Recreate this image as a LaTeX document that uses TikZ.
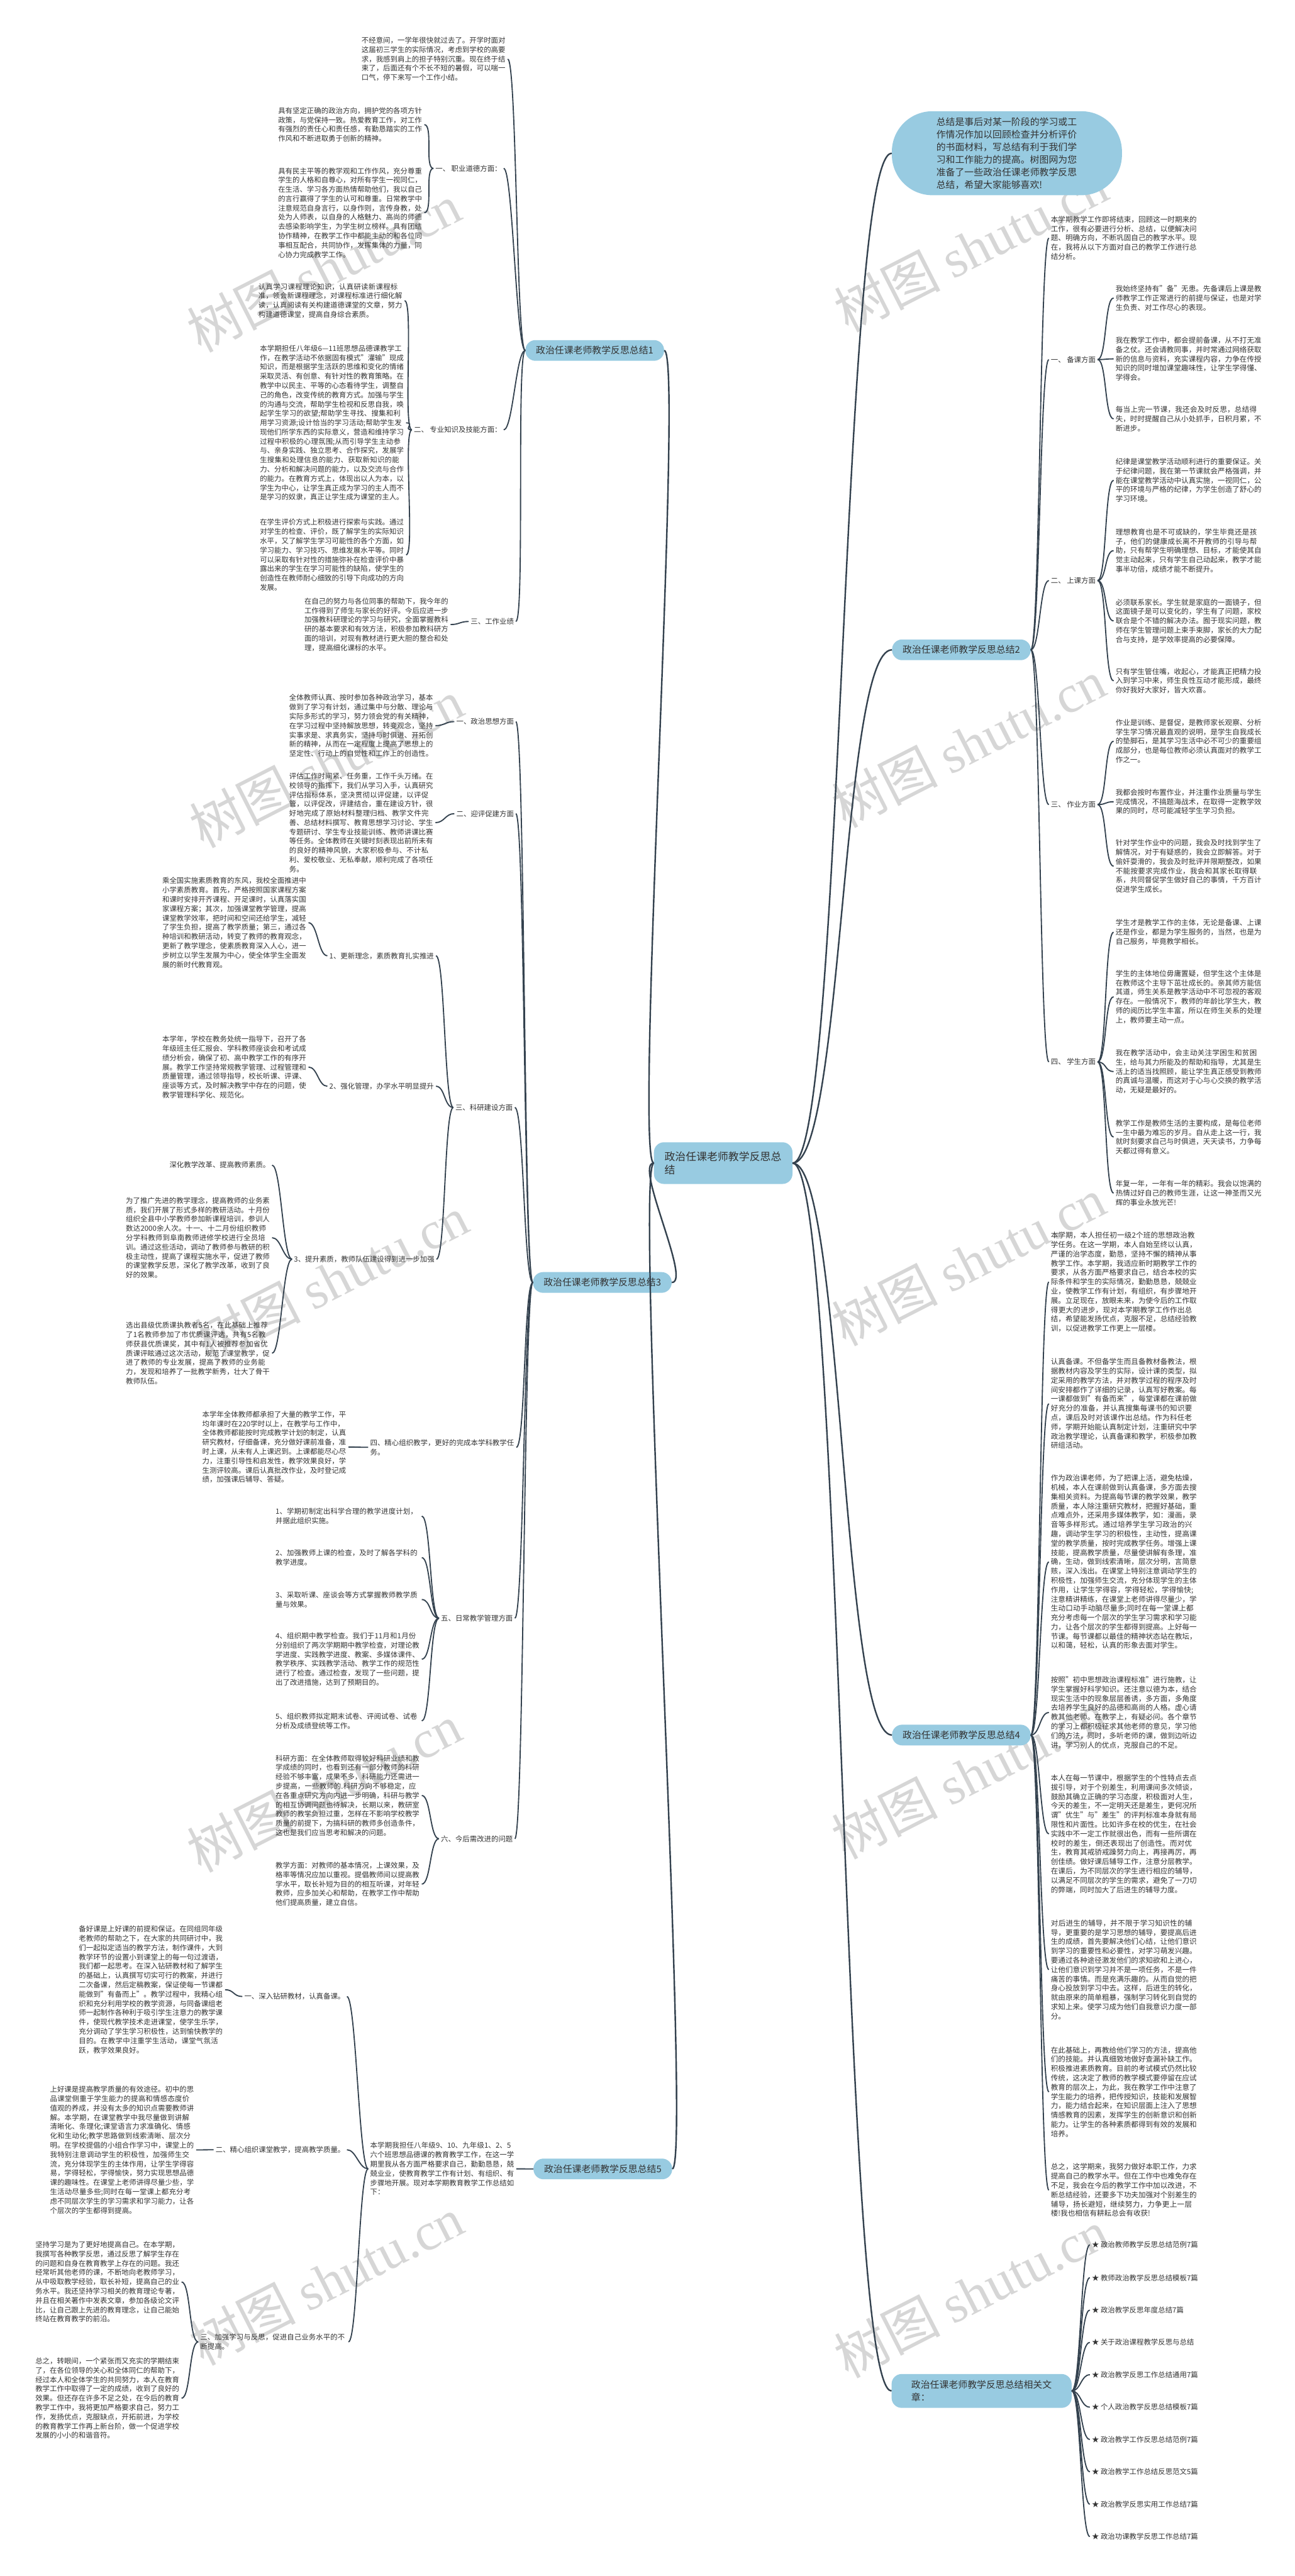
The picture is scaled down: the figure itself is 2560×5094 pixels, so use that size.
\documentclass[tikz,border=0pt]{standalone}
\usepackage{fontspec}
\setmainfont{Noto Sans CJK SC}
\newfontfamily\wmlatin{Liberation Serif}
\XeTeXlinebreaklocale "zh"
\XeTeXlinebreakskip=0pt plus 1pt
\definecolor{mmblue}{HTML}{98CBE1}
\definecolor{mmline}{HTML}{34424F}
\definecolor{mmtext}{HTML}{333333}
\usetikzlibrary{positioning}

\tikzset{
  para/.style={font=\fontsize{14.2}{18.4}\selectfont, text width=285pt, align=left, inner sep=0pt, outer xsep=4pt, text=mmtext},
  rpara/.style={para, font=\fontsize{14.4}{18.4}\selectfont, text width=289pt},
  tag/.style={font=\fontsize{14.2}{18.4}\selectfont, inner sep=0pt, outer xsep=4pt, text=mmtext},
  pill/.style={fill=mmblue, rounded corners=20pt, font=\fontsize{18.5}{24}\selectfont, inner xsep=21pt, minimum height=41pt, text=mmtext},
  link/.style={draw=mmline, line width=2.3pt},
  trunk/.style={draw=mmline, line width=3pt},
  wm/.style={text=black!16, font=\fontsize{105}{110}\selectfont, rotate=27, inner sep=0pt}
}

\begin{document}
\begin{tikzpicture}[x=1pt,y=-1pt]
  \useasboundingbox (0,0) rectangle (2560,5094);
  \fill[white] (0,0) rectangle (2560,5094);

  % watermark
  \foreach \wx/\wy in {640/530,645/1510,655/2530,641/3536,645/4510,1920/490,1915/1470,1915/2495,1915/3510,1920/4535}
    \node[wm] at (\wx,\wy) {树图 {\wmlatin shutu.cn}};

  % centre and main branches
  \node[pill, font=\fontsize{21}{27}\selectfont, text width=232pt, align=left, inner ysep=18pt] (root) at (1430,2300) {政治任课老师教学反思总结};
  \node[fill=mmblue, rounded corners=80pt, font=\fontsize{18.5}{24.9}\selectfont, text width=279pt, align=left, inner xsep=88pt, minimum height=166pt, text=mmtext] (intro) at (1991,303) {总结是事后对某一阶段的学习或工作情况作加以回顾检查并分析评价的书面材料，写总结有利于我们学习和工作能力的提高。树图网为您准备了一些政治任课老师教学反思总结，希望大家能够喜欢!};
  \node[pill] (b1) at (1176,693) {政治任课老师教学反思总结1};
  \node[pill] (b2) at (1901,1285) {政治任课老师教学反思总结2};
  \node[pill] (b3) at (1191,2536) {政治任课老师教学反思总结3};
  \node[pill] (b4) at (1901,3431) {政治任课老师教学反思总结4};
  \node[pill] (b5) at (1192,4289) {政治任课老师教学反思总结5};
  \node[pill, text width=278pt, align=left, inner xsep=39pt, minimum height=67pt] (b6) at (1941,4728) {政治任课老师教学反思总结相关文章：};

  % branch 1
  \node[para, anchor=north east] (t10) at (1004,73) {不经意间，一学年很快就过去了。开学时面对这届初三学生的实际情况，考虑到学校的高要求，我感到肩上的担子特别沉重。现在终于结束了，后面还有个不长不短的暑假，可以喘一口气，停下来写一个工作小结。};
  \node[tag, anchor=east] (l11) at (996,333) {一、 职业道德方面：};
  \node[para, anchor=north east] (t11a) at (839,212) {具有坚定正确的政治方向，拥护党的各项方针政策，与党保持一致。热爱教育工作，对工作有强烈的责任心和责任感，有勤恳踏实的工作作风和不断进取勇于创新的精神。};
  \node[para, anchor=north east] (t11b) at (839,331) {具有民主平等的教学观和工作作风，充分尊重学生的人格和自尊心，对所有学生一视同仁，在生活、学习各方面热情帮助他们，我以自己的言行赢得了学生的认可和尊重。日常教学中注意规范自身言行，以身作则，言传身教，处处为人师表，以自身的人格魅力、高尚的师德去感染影响学生，为学生树立榜样。具有团结协作精神，在教学工作中都能主动的和各位同事相互配合，共同协作，发挥集体的力量，同心协力完成教学工作。};
  \node[tag, anchor=east] (l12) at (996,850) {二、 专业知识及技能方面：};
  \node[para, anchor=north east] (t12a) at (800,560) {认真学习课程理论知识，认真研读新课程标准，领会新课程理念，对课程标准进行细化解读，认真阅读有关构建道德课堂的文章，努力构建道德课堂，提高自身综合素质。};
  \node[para, anchor=north east] (t12b) at (803,682) {本学期担任八年级6—11班思想品德课教学工作，在教学活动不依据固有模式"灌输"现成知识，而是根据学生活跃的思维和变化的情绪采取灵活、有创意、有针对性的教育策略。在教学中以民主、平等的心态看待学生，调整自己的角色，改变传统的教育方式。加强与学生的沟通与交流，帮助学生检视和反思自我，唤起学生学习的欲望;帮助学生寻找、搜集和利用学习资源;设计恰当的学习活动;帮助学生发现他们所学东西的实际意义，营造和维持学习过程中积极的心理氛围;从而引导学生主动参与、亲身实践、独立思考、合作探究，发展学生搜集和处理信息的能力、获取新知识的能力、分析和解决问题的能力，以及交流与合作的能力。在教育方式上，体现出以人为本，以学生为中心，让学生真正成为学习的主人而不是学习的奴隶，真正让学生成为课堂的主人。};
  \node[para, anchor=north east] (t12c) at (803,1026) {在学生评价方式上积极进行探索与实践。通过对学生的检查、评价，既了解学生的实际知识水平，又了解学生学习可能性的各个方面，如学习能力、学习技巧、思维发展水平等。同时可以采取有针对性的措施弥补在检查评价中暴露出来的学生在学习可能性的缺陷，使学生的创造性在教师耐心细致的引导下向成功的方向发展。};
  \node[tag, anchor=east] (l13) at (1020,1229) {三、工作业绩};
  \node[para, anchor=north east] (t13) at (891,1182) {在自己的努力与各位同事的帮助下，我今年的工作得到了师生与家长的好评。今后应进一步加强教科研理论的学习与研究，全面掌握教科研的基本要求和有效方法，积极参加教科研方面的培训，对现有教材进行更大胆的整合和处理，提高细化课标的水平。};

  % branch 2
  \node[rpara, anchor=north west] (t20) at (2074,427) {本学期教学工作即将结束，回顾这一时期来的工作，很有必要进行分析、总结，以便解决问题、明确方向，不断巩固自己的教学水平。现在，我将从以下方面对自己的教学工作进行总结分析。};
  \node[tag, anchor=west] (l21) at (2074,711) {一、 备课方面};
  \node[rpara, anchor=north west] (t21a) at (2202,564) {我始终坚持有"备"无患。先备课后上课是教师教学工作正常进行的前提与保证，也是对学生负责、对工作尽心的表现。};
  \node[rpara, anchor=north west] (t21b) at (2202,666) {我在教学工作中，都会提前备课，从不打无准备之仗。还会请教同事，并时常通过网络获取新的信息与资料，充实课程内容，力争在传授知识的同时增加课堂趣味性，让学生学得懂、学得会。};
  \node[rpara, anchor=north west] (t21c) at (2202,803) {每当上完一节课，我还会及时反思，总结得失，时时提醒自己从小处抓手，日积月累，不断进步。};
  \node[tag, anchor=west] (l22) at (2074,1148) {二、 上课方面};
  \node[rpara, anchor=north west] (t22a) at (2202,906) {纪律是课堂教学活动顺利进行的重要保证。关于纪律问题，我在第一节课就会严格强调，并能在课堂教学活动中认真实施，一视同仁，公平的环境与严格的纪律，为学生创造了舒心的学习环境。};
  \node[rpara, anchor=north west] (t22b) at (2202,1045) {理想教育也是不可或缺的，学生毕竟还是孩子，他们的健康成长离不开教师的引导与帮助，只有帮学生明确理想、目标，才能使其自觉主动起来，只有学生自己动起来，教学才能事半功倍，成绩才能不断提升。};
  \node[rpara, anchor=north west] (t22c) at (2202,1184) {必须联系家长。学生就是家庭的一面镜子，但这面镜子是可以变化的，学生有了问题，家校联合是个不错的解决办法。囿于现实问题，教师在学生管理问题上束手束脚，家长的大力配合与支持，是学效率提高的必要保障。};
  \node[rpara, anchor=north west] (t22d) at (2202,1321) {只有学生管住嘴，收起心，才能真正把精力投入到学习中来，师生良性互动才能形成，最终你好我好大家好，皆大欢喜。};
  \node[tag, anchor=west] (l23) at (2074,1591) {三、 作业方面};
  \node[rpara, anchor=north west] (t23a) at (2202,1422) {作业是训练、是督促，是教师家长观察、分析学生学习情况最直观的说明，是学生自我成长的垫脚石，是其学习生活中必不可少的重要组成部分，也是每位教师必须认真面对的教学工作之一。};
  \node[rpara, anchor=north west] (t23b) at (2202,1560) {我都会按时布置作业，并注重作业质量与学生完成情况，不搞题海战术，在取得一定教学效果的同时，尽可能减轻学生学习负担。};
  \node[rpara, anchor=north west] (t23c) at (2202,1660) {针对学生作业中的问题，我会及时找到学生了解情况，对于有疑惑的，我会立即解答。对于偷奸耍滑的，我会及时批评并限期整改，如果不能按要求完成作业，我会和其家长取得联系，共同督促学生做好自己的事情，千方百计促进学生成长。};
  \node[tag, anchor=west] (l24) at (2074,2100) {四、 学生方面};
  \node[rpara, anchor=north west] (t24a) at (2202,1818) {学生才是教学工作的主体，无论是备课、上课还是作业，都是为学生服务的，当然，也是为自己服务，毕竟教学相长。};
  \node[rpara, anchor=north west] (t24b) at (2202,1918) {学生的主体地位毋庸置疑，但学生这个主体是在教师这个主导下茁壮成长的。亲其师方能信其道，师生关系是教学活动中不可忽视的客观存在。一般情况下，教师的年龄比学生大，教师的阅历比学生丰富，所以在师生关系的处理上，教师要主动一点。};
  \node[rpara, anchor=north west] (t24c) at (2202,2075) {我在教学活动中，会主动关注学困生和贫困生，给与其力所能及的帮助和指导，尤其是生活上的适当找照顾，能让学生真正感受到教师的真诚与温暖，而这对于心与心交换的教学活动，无疑是最好的。};
  \node[rpara, anchor=north west] (t24d) at (2202,2214) {教学工作是教师生活的主要构成，是每位老师一生中最为难忘的岁月。自从走上这一行，我就时刻要求自己与时俱进，天天读书，力争每天都过得有意义。};
  \node[rpara, anchor=north west] (t24e) at (2202,2334) {年复一年，一年有一年的精彩。我会以饱满的热情过好自己的教师生涯，让这一神圣而又光辉的事业永放光芒!};

  % branch 3
  \node[tag, anchor=east] (l31) at (1020,1427) {一、政治思想方面};
  \node[para, anchor=north east] (t31) at (861,1373) {全体教师认真、按时参加各种政治学习，基本做到了学习有计划，通过集中与分散、理论与实际多形式的学习，努力领会党的有关精神，在学习过程中坚持解放思想，转变观念，坚持实事求是、求真务实，坚持与时俱进、开拓创新的精神，从而在一定程度上提高了思想上的坚定性、行动上的自觉性和工作上的创造性。};
  \node[tag, anchor=east] (l32) at (1020,1609) {二、迎评促建方面};
  \node[para, anchor=north east] (t32) at (861,1528) {评估工作时间紧、任务重，工作千头万绪。在校领导的指挥下，我们从学习入手，认真研究评估指标体系，坚决贯彻以评促建，以评促管，以评促改，评建结合，重在建设方针，很好地完成了原始材料整理归档、教学文件完善、总结材料撰写、教育思想学习讨论、学生专题研讨、学生专业技能训练、教师讲课比赛等任务。全体教师在关键时刻表现出前所未有的良好的精神风貌，大家积极参与、不计私利、爱校敬业、无私奉献，顺利完成了各项任务。};
  \node[tag, anchor=east] (l33) at (1018,2190) {三、科研建设方面};
  \node[tag, anchor=east] (l331) at (862,1890) {1、更新理念，素质教育扎实推进};
  \node[para, anchor=north east] (t331) at (610,1735) {乘全国实施素质教育的东风，我校全面推进中小学素质教育。首先，严格按照国家课程方案和课时安排开齐课程、开足课时，认真落实国家课程方案；其次，加强课堂教学管理，提高课堂教学效率，把时间和空间还给学生，减轻了学生负担，提高了教学质量；第三，通过各种培训和教研活动，转变了教师的教育观念，更新了教学理念，使素质教育深入人心，进一步树立以学生发展为中心，使全体学生全面发展的新时代教育观。};
  \node[tag, anchor=east] (l332) at (862,2148) {2、强化管理，办学水平明显提升};
  \node[para, anchor=north east] (t332) at (610,2048) {本学年，学校在教务处统一指导下，召开了各年级班主任汇报会、学科教师座谈会和考试成绩分析会，确保了初、高中教学工作的有序开展。教学工作坚持常规教学管理、过程管理和质量管理，通过领导指导，校长听课、评课、座谈等方式，及时解决教学中存在的问题，使教学管理科学化、规范化。};
  \node[tag, anchor=east] (l333) at (863,2490) {3、提升素质，教师队伍建设得到进一步加强};
  \node[tag, anchor=east] (t333a) at (538,2304) {深化教学改革、提高教师素质。};
  \node[para, anchor=north east] (t333b) at (538,2367) {为了推广先进的教学理念，提高教师的业务素质，我们开展了形式多样的教研活动。十月份组织全县中小学教师参加新课程培训，参训人数达2000余人次。十一、十二月份组织教师分学科教师到阜南教师进修学校进行全员培训。通过这些活动，调动了教师参与教研的积极主动性，提高了课程实施水平，促进了教师的课堂教学反思，深化了教学改革，收到了良好的效果。};
  \node[para, anchor=north east] (t333c) at (538,2614) {选出县级优质课执教者5名，在此基础上推荐了1名教师参加了市优质课评选，共有5名教师获县优质课奖，其中有1人被推荐参加省优质课评眩通过这次活动，规范了课堂教学，促进了教师的专业发展，提高了教师的业务能力，发现和培养了一批教学新秀，壮大了骨干教师队伍。};
  \node[para, anchor=east] (l34) at (1021,2862) {四、精心组织教学，更好的完成本学科教学任务。};
  \node[para, anchor=north east] (t34) at (689,2790) {本学年全体教师都承担了大量的教学工作，平均年课时在220学时以上，在教学与工作中，全体教师都能按时完成教学计划的制定，认真研究教材，仔细备课，充分做好课前准备，准时上课，从未有人上课迟到。上课都能尽心尽力，注重引导性和启发性，教学效果良好，学生测评较高。课后认真批改作业，及时登记成绩，加强课后辅导、答疑。};
  \node[tag, anchor=east] (l35) at (1018,3200) {五、日常教学管理方面};
  \node[para, anchor=north east] (t35a) at (834,2982) {1、学期初制定出科学合理的教学进度计划，并据此组织实施。};
  \node[para, anchor=north east] (t35b) at (834,3064) {2、加强教师上课的检查，及时了解各学科的教学进度。};
  \node[para, anchor=north east] (t35c) at (834,3147) {3、采取听课、座谈会等方式掌握教师教学质量与效果。};
  \node[para, anchor=north east] (t35d) at (834,3228) {4、组织期中教学检查。我们于11月和1月份分别组织了两次学期期中教学检查，对理论教学进度、实践教学进度、教案、多媒体课件、教学秩序、实践教学活动、教学工作的规范性进行了检查。通过检查，发现了一些问题，提出了改进措施，达到了预期目的。};
  \node[para, anchor=north east] (t35e) at (834,3387) {5、组织教师拟定期末试卷、评阅试卷、试卷分析及成绩登统等工作。};
  \node[tag, anchor=east] (l36) at (1018,3636) {六、今后需改进的问题};
  \node[para, anchor=north east] (t36a) at (834,3470) {科研方面：在全体教师取得较好科研业绩和教学成绩的同时，也看到还有一部分教师的科研经验不够丰富，成果不多，科研能力还需进一步提高，一些教师的.科研方向不够稳定，应在各重点研究方向内进一步明确，科研与教学的相互协调问题也待解决，长期以来，教研室教师的教学负担过重，怎样在不影响学校教学质量的前提下，为搞科研的教师多创造条件，这也是我们应当思考和解决的问题。};
  \node[para, anchor=north east] (t36b) at (834,3682) {教学方面：对教师的基本情况，上课效果，及格率等情况应加以重视。提倡教师间以提高教学水平，取长补短为目的的相互听课，对年轻教师，应多加关心和帮助，在教学工作中帮助他们提高质量，建立自信。};

  % branch 4
  \node[rpara, anchor=north west] (t41) at (2074,2436) {本学期，本人担任初一级2个班的思想政治教学任务。在这一学期，本人自始至终以认真，严谨的治学态度，勤恳，坚持不懈的精神从事教学工作。本学期，我适应新时期教学工作的要求，从各方面严格要求自己，结合本校的实际条件和学生的实际情况，勤勤恳恳，兢兢业业，使教学工作有计划，有组织，有步骤地开展。立足现在，放眼未来，为使今后的工作取得更大的进步，现对本学期教学工作作出总结，希望能发扬优点，克服不足，总结经验教训，以促进教学工作更上一层楼。};
  \node[rpara, anchor=north west] (t42) at (2074,2686) {认真备课。不但备学生而且备教材备教法，根据教材内容及学生的实际，设计课的类型，拟定采用的教学方法，并对教学过程的程序及时间安排都作了详细的记录，认真写好教案。每一课都做到"有备而来"，每堂课都在课前做好充分的准备，并认真搜集每课书的知识要点，课后及时对该课作出总结。作为科任老师，学期开始能认真制定计划，注重研究中学政治教学理论，认真备课和教学，积极参加教研组活动。};
  \node[rpara, anchor=north west] (t43) at (2074,2916) {作为政治课老师，为了把课上活，避免枯燥，机械，本人在课前做到认真备课，多方面去搜集相关资料。为提高每节课的教学效果，教学质量，本人除注重研究教材，把握好基础，重点难点外，还采用多媒体教学，如：漫画，录音等多样形式。通过培养学生学习政治的兴趣，调动学生学习的积极性，主动性，提高课堂的教学质量，按时完成教学任务。增强上课技能，提高教学质量，尽量使讲解有条理，准确，生动，做到线索清晰，层次分明，言简意赅，深入浅出。在课堂上特别注意调动学生的积极性，加强师生交流，充分体现学生的主体作用，让学生学得容，学得轻松，学得愉快;注意精讲精练，在课堂上老师讲得尽量少，学生动口动手动脑尽量多;同时在每一堂课上都充分考虑每一个层次的学生学习需求和学习能力，让各个层次的学生都得到提高。上好每一节课。每节课都以最佳的精神状态站在教坛，以和蔼，轻松，认真的形象去面对学生。};
  \node[rpara, anchor=north west] (t44) at (2074,3315) {按照"初中思想政治课程标准"进行施教，让学生掌握好科学知识。还注意以德为本，结合现实生活中的现象层层善诱，多方面，多角度去培养学生良好的品德和高尚的人格。虚心请教其他老师。在教学上，有疑必问。各个章节的学习上都积极征求其他老师的意见，学习他们的方法，同时，多听老师的课，做到边听边讲，学习别人的优点，克服自己的不足。};
  \node[rpara, anchor=north west] (t45) at (2074,3509) {本人在每一节课中，根据学生的个性特点去点拔引导，对于个别差生，利用课间多次倾谈，鼓励其确立正确的学习态度，积极面对人生，今天的差生，不一定明天还是差生，更何况所谓"优生"与"差生"的评判标准本身就有局限性和片面性。比如许多在校的优生，在社会实践中不一定工作就很出色，而有一些所谓在校时的差生，倒还表现出了创造性。而对优生，教育其戒骄戒躁努力向上，再接再厉，再创佳绩。做好课后辅导工作，注意分层教学。在课后，为不同层次的学生进行相应的辅导，以满足不同层次的学生的需求，避免了一刀切的弊端，同时加大了后进生的辅导力度。};
  \node[rpara, anchor=north west] (t46) at (2074,3796) {对后进生的辅导，并不限于学习知识性的辅导，更重要的是学习思想的辅导，要提高后进生的成绩，首先要解决他们心结，让他们意识到学习的重要性和必要性，对学习萌发兴趣。要通过各种途径激发他们的求知欲和上进心，让他们意识到学习并不是一项任务，不是一件痛苦的事情。而是充满乐趣的。从而自觉的把身心投放到学习中去。这样，后进生的转化，就由原来的简单粗暴，强制学习转化到自觉的求知上来。使学习成为他们自我意识力度一部分。};
  \node[rpara, anchor=north west] (t47) at (2074,4047) {在此基础上，再教给他们学习的方法，提高他们的技能。并认真细致地做好查漏补缺工作。积极推进素质教育。目前的考试模式仍然比较传统，这决定了教师的教学模式要停留在应试教育的层次上，为此，我在教学工作中注意了学生能力的培养，把传授知识，技能和发展智力，能力结合起来，在知识层面上注入了思想情感教育的因素，发挥学生的创新意识和创新能力。让学生的各种素质都得到有效的发展和培养。};
  \node[rpara, anchor=north west] (t48) at (2074,4278) {总之，这学期来，我努力做好本职工作，力求提高自己的教学水平。但在工作中也难免存在不足，我会在今后的教学工作中加以改进，不断总结经验，还要多下功夫加强对个别差生的辅导，扬长避短，继续努力，力争更上一层楼!我也相信有耕耘总会有收获!};

  % branch 5
  \node[para, anchor=north east] (t50) at (1021,4236) {本学期我担任八年级9、10、九年级1、2、5六个班思想品德课的教育教学工作，在这一学期里我从各方面严格要求自己，勤勤恳恳，兢兢业业，使教育教学工作有计划、有组织、有步骤地开展。现对本学期教育教学工作总结如下：};
  \node[tag, anchor=east] (l51) at (686,3948) {一、深入钻研教材，认真备课。};
  \node[para, anchor=north east] (t51) at (445,3808) {备好课是上好课的前提和保证。在同组同年级老教师的帮助之下，在大家的共同研讨中，我们一起拟定适当的教学方法，制作课件，大到教学环节的设置小到课堂上的每一句过渡语，我们都一起思考。在深入钻研教材和了解学生的基础上，认真撰写切实可行的教案，并进行二次备课，然后定稿教案，保证使每一节课都能做到"有备而上"。教学过程中，我精心组织和充分利用学校的教学资源，与同备课组老师一起制作各种利于吸引学生注意力的教学课件，使现代教学技术走进课堂，使学生乐学，充分调动了学生学习积极性，达到愉快教学的目的。在教学中注重学生活动，课堂气氛活跃，教学效果良好。};
  \node[tag, anchor=east] (l52) at (686,4251) {二、精心组织课堂教学，提高教学质量。};
  \node[para, anchor=north east] (t52) at (388,4125) {上好课是提高教学质量的有效途径。初中的思品课堂侧重于学生能力的提高和情感态度价值观的养成，并没有太多的知识点需要教师讲解。本学期，在课堂教学中我尽量做到讲解清晰化、条理化;课堂语言力求准确化、情感化和生动化;教学思路做到线索清晰、层次分明。在学校提倡的小组合作学习中，课堂上的我特别注意调动学生的积极性，加强师生交流，充分体现学生的主体作用，让学生学得容易，学得轻松，学得愉快，努力实现思想品德课的趣味性。在课堂上老师讲得尽量少些，学生活动尽量多些;同时在每一堂课上都充分考虑不同层次学生的学习需求和学习能力，让各个层次的学生都得到提高。};
  \node[para, anchor=east, text width=289pt] (l53) at (689,4631) {三、加强学习与反思，促进自己业务水平的不断提高。};
  \node[para, anchor=north east] (t53a) at (359,4432) {坚持学习是为了更好地提高自己。在本学期，我撰写各种教学反思，通过反思了解学生存在的问题和自身在教育教学上存在的问题。我还经常听其他老师的课，不断地向老教师学习，从中吸取教学经验，取长补短，提高自己的业务水平。我还坚持学习相关的教育理论专著，并且在相关著作中发表文章，参加各级论文评比，让自己跟上先进的教育理念，让自己能始终站在教育教学的前沿。};
  \node[para, anchor=north east] (t53b) at (359,4662) {总之，转眼间，一个紧张而又充实的学期结束了，在各位领导的关心和全体同仁的帮助下，经过本人和全体学生的共同努力，本人在教育教学工作中取得了一定的成绩，收到了良好的效果。但还存在许多不足之处，在今后的教育教学工作中，我将更加严格要求自己，努力工作，发扬优点，克服缺点，开拓前进，为学校的教育教学工作再上新台阶，做一个促进学校发展的小小的和谐音符。};

  % related articles
  \foreach \yy/\ss [count=\k] in {4439/政治教师教学反思总结范例7篇, 4504/教师政治教学反思总结模板7篇, 4568/政治教学反思年度总结7篇, 4632/关于政治课程教学反思与总结, 4696/政治教学反思工作总结通用7篇, 4760/个人政治教学反思总结模板7篇, 4824/政治教学工作反思总结范例7篇, 4888/政治教学工作总结反思范文5篇, 4952/政治教学反思实用工作总结7篇, 5016/政治功课教学反思工作总结7篇}
    \node[tag, anchor=west] (r\k) at (2155,\yy) {★ \ss};

  % connectors from the centre
  \foreach \b in {b1,b3,b5}
    \draw[trunk] (root.west) .. controls +(-40,0) and +(40,0) .. (\b.east);
  \foreach \b in {intro,b2,b4,b6}
    \draw[trunk] (root.east) .. controls +(100,0) and +(-100,0) .. (\b.west);

  % connectors, left side
  \foreach \p/\c in {b1/t10,b1/l11,b1/l12,b1/l13,l11/t11a,l11/t11b,l12/t12a,l12/t12b,l12/t12c,l13/t13,
      b3/l31,b3/l32,b3/l33,b3/l34,b3/l35,b3/l36,l31/t31,l32/t32,l33/l331,l33/l332,l33/l333,
      l331/t331,l332/t332,l333/t333a,l333/t333b,l333/t333c,l34/t34,
      l35/t35a,l35/t35b,l35/t35c,l35/t35d,l35/t35e,l36/t36a,l36/t36b,
      b5/t50,t50/l51,t50/l52,t50/l53,l51/t51,l52/t52,l53/t53a,l53/t53b}
    \draw[link] (\p.west) .. controls +(-18,0) and +(18,0) .. (\c.east);

  % connectors, right side
  \foreach \p/\c in {b2/t20,b2/l21,b2/l22,b2/l23,b2/l24,l21/t21a,l21/t21b,l21/t21c,
      l22/t22a,l22/t22b,l22/t22c,l22/t22d,l23/t23a,l23/t23b,l23/t23c,
      l24/t24a,l24/t24b,l24/t24c,l24/t24d,l24/t24e,
      b4/t41,b4/t42,b4/t43,b4/t44,b4/t45,b4/t46,b4/t47,b4/t48}
    \draw[link] (\p.east) .. controls +(18,0) and +(-18,0) .. (\c.west);
  \foreach \k in {1,...,10}
    \draw[link] (b6.east) .. controls +(18,0) and +(-18,0) .. (r\k.west);
\end{tikzpicture}
\end{document}
